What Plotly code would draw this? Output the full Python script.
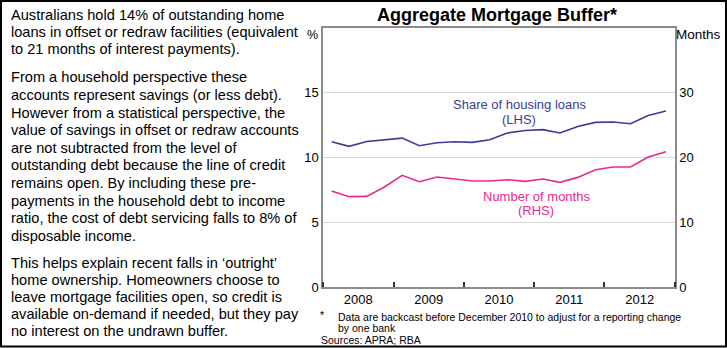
import plotly.graph_objects as go

# ---------------- data ----------------
quarters = ["2008-02-15", "2008-05-15", "2008-08-15", "2008-11-15",
            "2009-02-15", "2009-05-15", "2009-08-15", "2009-11-15",
            "2010-02-15", "2010-05-15", "2010-08-15", "2010-11-15",
            "2011-02-15", "2011-05-15", "2011-08-15", "2011-11-15",
            "2012-02-15", "2012-05-15", "2012-08-15", "2012-11-15"]
share_lhs = [11.22, 10.86, 11.24, 11.37, 11.50, 10.91, 11.14, 11.22, 11.17, 11.37,
             11.89, 12.09, 12.15, 11.89, 12.40, 12.71, 12.74, 12.61, 13.25, 13.59]
months_rhs = [14.83, 13.95, 14.00, 15.44, 17.24, 16.26, 16.99, 16.68, 16.37, 16.37,
              16.57, 16.31, 16.68, 16.16, 16.93, 18.12, 18.53, 18.53, 20.08, 20.90]
left_ticks = [0, 5, 10, 15]
right_ticks = [0, 10, 20, 30]

title = "<b>Aggregate Mortgage Buffer*</b>"
para1 = ["Australians hold 14% of outstanding home",
         "loans in offset or redraw facilities (equivalent",
         "to 21 months of interest payments)."]
para2 = ["From a household perspective these",
         "accounts represent savings (or less debt).",
         "However from a statistical perspective, the",
         "value of savings in offset or redraw accounts",
         "are not subtracted from the level of",
         "outstanding debt because the line of credit",
         "remains open. By including these pre-",
         "payments in the household debt to income",
         "ratio, the cost of debt servicing falls to 8% of",
         "disposable income."]
para3 = ["This helps explain recent falls in \u2018outright\u2019",
         "home ownership. Homeowners choose to",
         "leave mortgage facilities open, so credit is",
         "available on-demand if needed, but they pay",
         "no interest on the undrawn buffer."]
share_label = ["Share of housing loans", "(LHS)"]
months_label = ["Number of months", "(RHS)"]
footnote = ["Data are backcast before December 2010 to adjust for a reporting change",
            "by one bank"]
sources = "Sources: APRA; RBA"

# ---------------- layout helpers ----------------
W, H = 727, 348
L, R, T, B = 323, 52, 28, 61
PW, PH = W - L - R, H - T - B


def px(x):
    return (x - L) / PW


def py(y):
    return (H - B - y) / PH


FONT = "Liberation Sans, Arial, sans-serif"
BLUE = "#3a3d96"
PINK = "#ea2a8e"
AXC = "#8c8c8c"

fig = go.Figure()
fig.add_trace(go.Scatter(x=quarters, y=share_lhs, mode="lines",
                         line=dict(color=BLUE, width=1.6), yaxis="y",
                         showlegend=False, hoverinfo="skip"))
fig.add_trace(go.Scatter(x=quarters, y=months_rhs, mode="lines",
                         line=dict(color=PINK, width=1.6), yaxis="y2",
                         showlegend=False, hoverinfo="skip"))

ann = []


def text(t, x, y, size, color="black", xanchor="left", yanchor="middle"):
    ann.append(dict(text=t, x=px(x), y=py(y), xref="paper", yref="paper",
                    xanchor=xanchor, yanchor=yanchor, showarrow=False,
                    font=dict(family=FONT, size=size, color=color)))


def lines(items, x, y0, step, size, **kw):
    for i, t in enumerate(items):
        text(t, x, y0 + i * step, size, **kw)


# left-hand commentary
lines(para1, 9, 14.8, 17.3, 14.6)
lines(para2, 9, 77.5, 17.6, 14.6)
lines(para3, 9, 262.5, 17.0, 14.6)

# chart titles and units
text(title, 497, 15, 18, xanchor="center")
text("%", 312.5, 35, 12.5, xanchor="center")
text("Months", 723, 35, 13.5, xanchor="right")

# series labels
lines(share_label, 519, 104.3, 14.8, 13, color=BLUE, xanchor="center")
lines(months_label, 536, 196.7, 13.6, 13, color=PINK, xanchor="center")

# footnotes
text("*", 321.5, 315, 10.5, xanchor="center")
lines(footnote, 336, 316.7, 11, 10.5)
text(sources, 318.5, 339.5, 10.5)

shapes = [dict(type="rect", xref="paper", yref="paper",
               x0=px(1), x1=px(726), y0=py(1), y1=py(346.5),
               line=dict(color="black", width=2))]

fig.update_layout(
    width=W, height=H,
    margin=dict(l=L, r=R, t=T, b=B, pad=0),
    paper_bgcolor="white", plot_bgcolor="white",
    font=dict(family=FONT, size=13, color="black"),
    showlegend=False,
    annotations=ann,
    shapes=shapes,
    xaxis=dict(type="date", range=["2008-01-01", "2013-01-01"],
               dtick="M12", tick0="2008-01-01", ticklabelmode="period",
               tickformat="%Y", ticks="inside", ticklen=5, tickwidth=1.5,
               tickcolor="#333333", showgrid=False, zeroline=False,
               showline=True, mirror=True, linecolor=AXC, linewidth=1.5,
               tickfont=dict(size=13)),
    yaxis=dict(range=[0, 20], tickvals=left_ticks, showgrid=True,
               gridcolor="#d9d9d9", gridwidth=1, zeroline=False,
               showline=True, linecolor=AXC, linewidth=1.5, ticks="",
               tickfont=dict(size=13)),
    yaxis2=dict(range=[0, 40], tickvals=right_ticks, overlaying="y", side="right",
                showgrid=False, zeroline=False, showline=True, linecolor=AXC,
                linewidth=1.5, ticks="", tickfont=dict(size=13)),
)

fig.write_html("out.html")
